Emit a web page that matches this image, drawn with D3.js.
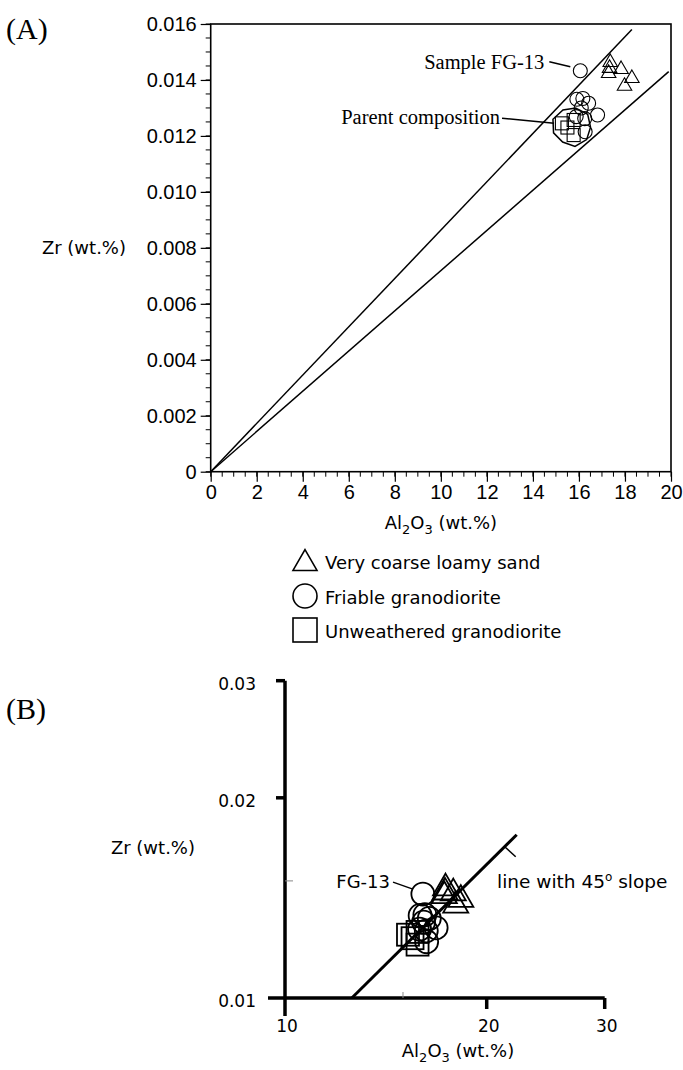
<!DOCTYPE html>
<html>
<head>
<meta charset="utf-8">
<script src="https://cdn.jsdelivr.net/npm/d3@7/dist/d3.min.js"></script>
<style>
  html, body { margin: 0; padding: 0; background: #fff; }
  svg { display: block; }
</style>
</head>
<body>
<svg id="chart" width="683" height="1070"></svg>
<script>
// ---------------- DATA ----------------
const seriesNames = ["Very coarse loamy sand", "Friable granodiorite", "Unweathered granodiorite"];
// [Al2O3 wt.%, Zr wt.%]
const loamySand = [
  [17.36, 0.01463], [17.33, 0.01442], [17.29, 0.01424],
  [17.83, 0.01438], [18.30, 0.01406], [17.98, 0.01378]
];
const friable = [
  [16.06, 0.01433],
  [15.91, 0.01331], [16.17, 0.01334], [16.42, 0.01317], [16.81, 0.01275],
  [15.88, 0.01269], [16.27, 0.01215], [16.10, 0.01300], [16.25, 0.01262]
];
const unweathered = [
  [15.26, 0.01245], [15.77, 0.01257], [15.77, 0.01203], [15.50, 0.01230]
];
const sampleFG13 = [16.06, 0.01433];
const parentComposition = [15.70, 0.01233];
const boundLines = [
  [[0, 0], [18.3, 0.0158]],
  [[0, 0], [19.9, 0.0143]]
];
const line45 = [[12.58, 0.01], [22.17, 0.0176]];

const aXTicks = [0, 2, 4, 6, 8, 10, 12, 14, 16, 18, 20];
const aXMinor = d3.range(0, 20.01, 0.5);
const aYTicks = [0, 0.002, 0.004, 0.006, 0.008, 0.010, 0.012, 0.014, 0.016];
const aYMinor = d3.range(0, 0.01601, 0.0005);
const bXTicks = [10, 20, 30];
const bYTicks = [0.01, 0.02, 0.03];

// ---------------- SETUP ----------------
const svg = d3.select("#chart");
const serif = "'Liberation Serif', 'Times New Roman', serif";
const sansA = "'Liberation Sans', Arial, sans-serif";
const sansB = "'DejaVu Sans', Verdana, sans-serif";

function triPath(cx, cy, s) {
  const h = s * Math.sqrt(3) / 2;
  return `M${cx},${cy - 2 * h / 3}L${cx + s / 2},${cy + h / 3}L${cx - s / 2},${cy + h / 3}Z`;
}

// ================= PANEL A =================
const xA = d3.scaleLinear().domain([0, 20]).range([210.7, 671]);
const yA = d3.scaleLinear().domain([0, 0.016]).range([471.7, 24]);
const gA = svg.append("g");

// panel letter
svg.append("text").attr("x", 6).attr("y", 39)
  .attr("font-family", serif).attr("font-size", 30).text("(A)");

// minor ticks
gA.append("g").selectAll("line").data(aXMinor).join("line")
  .attr("x1", d => xA(d)).attr("x2", d => xA(d))
  .attr("y1", yA(0)).attr("y2", yA(0) + 5)
  .attr("stroke", "#000").attr("stroke-width", 1);
gA.append("g").selectAll("line").data(aYMinor).join("line")
  .attr("y1", d => yA(d)).attr("y2", d => yA(d))
  .attr("x1", xA(0)).attr("x2", xA(0) - 5)
  .attr("stroke", "#000").attr("stroke-width", 1);

// major ticks + labels via d3 axes
const axA_x = gA.append("g").attr("transform", `translate(0,${yA(0)})`)
  .call(d3.axisBottom(xA).tickValues(aXTicks).tickSize(10).tickPadding(4).tickFormat(d3.format("d")));
const axA_y = gA.append("g").attr("transform", `translate(${xA(0)},0)`)
  .call(d3.axisLeft(yA).tickValues(aYTicks).tickSize(10).tickPadding(4)
    .tickFormat(d => d === 0 ? "0" : d3.format(".3f")(d)));
[axA_x, axA_y].forEach(ax => {
  ax.select(".domain").remove();
  ax.selectAll(".tick line").attr("stroke", "#000").attr("stroke-width", 1.2);
  ax.selectAll(".tick text").attr("font-family", sansA).attr("font-size", 20).attr("fill", "#000");
});
axA_x.selectAll(".tick text").attr("dy", "0.68em");

// frame
gA.append("rect")
  .attr("x", xA(0)).attr("y", yA(0.016))
  .attr("width", xA(20) - xA(0)).attr("height", yA(0) - yA(0.016))
  .attr("fill", "none").attr("stroke", "#000").attr("stroke-width", 1.6);

// bounding lines
const lineA = d3.line().x(d => xA(d[0])).y(d => yA(d[1]));
gA.append("g").selectAll("path").data(boundLines).join("path")
  .attr("d", lineA).attr("fill", "none").attr("stroke", "#000").attr("stroke-width", 1.5);

// parent composition polygon (drawn around the parent composition point)
const pc = [xA(parentComposition[0]), yA(parentComposition[1])];
const polyR = [19, 20, 18.5, 19.5, 20, 18, 19.5, 20.5, 19];
const polyPts = polyR.map((r, i) => {
  const a = -Math.PI / 2 + i * 2 * Math.PI / polyR.length + 0.2;
  return [pc[0] + r * Math.cos(a), pc[1] + r * Math.sin(a)];
});
gA.append("path").attr("d", d3.line()(polyPts) + "Z")
  .attr("fill", "none").attr("stroke", "#000").attr("stroke-width", 1.5);

// markers
const mkA = gA.append("g").attr("fill", "none").attr("stroke", "#000").attr("stroke-width", 1.1);
mkA.selectAll(".sq").data(unweathered).join("rect").attr("class", "sq")
  .attr("x", d => xA(d[0]) - 6.5).attr("y", d => yA(d[1]) - 6.5)
  .attr("width", 13).attr("height", 13);
mkA.selectAll(".ci").data(friable).join("circle").attr("class", "ci")
  .attr("cx", d => xA(d[0])).attr("cy", d => yA(d[1])).attr("r", 7);
mkA.selectAll(".tr").data(loamySand).join("path").attr("class", "tr")
  .attr("d", d => triPath(xA(d[0]), yA(d[1]), 14.5));

// annotations A
const fgA = [xA(sampleFG13[0]), yA(sampleFG13[1])];
gA.append("text").attr("x", fgA[0] - 36).attr("y", fgA[1] - 9).attr("dy", "0.35em")
  .attr("text-anchor", "end").attr("font-family", serif).attr("font-size", 20.5).text("Sample FG-13");
gA.append("line").attr("x1", fgA[0] - 31).attr("y1", fgA[1] - 9)
  .attr("x2", fgA[0] - 10).attr("y2", fgA[1] - 4).attr("stroke", "#000").attr("stroke-width", 1.5);
gA.append("text").attr("x", pc[0] - 72).attr("y", pc[1] - 10).attr("dy", "0.35em")
  .attr("text-anchor", "end").attr("font-family", serif).attr("font-size", 20.5).text("Parent composition");
gA.append("line").attr("x1", pc[0] - 70).attr("y1", pc[1] - 8.5)
  .attr("x2", pc[0] - 18).attr("y2", pc[1] - 3.5).attr("stroke", "#000").attr("stroke-width", 1.5);

// axis titles A
gA.append("text").attr("x", 126).attr("y", yA(0.008)).attr("dy", "0.35em")
  .attr("text-anchor", "end").attr("font-family", sansB).attr("font-size", 18).text("Zr (wt.%)");
const tA = gA.append("text").attr("x", (xA(0) + xA(20)) / 2).attr("y", 529)
  .attr("text-anchor", "middle").attr("font-family", sansB).attr("font-size", 18);
tA.append("tspan").text("Al");
tA.append("tspan").attr("font-size", 13).attr("dy", 5).text("2");
tA.append("tspan").attr("dy", -5).text("O");
tA.append("tspan").attr("font-size", 13).attr("dy", 5).text("3");
tA.append("tspan").attr("dy", -5).text(" (wt.%)");

// legend
const lg = svg.append("g").attr("font-family", sansB).attr("font-size", 18);
const lgY = [561, 596, 630];
lg.append("path").attr("d", triPath(305, 563.5, 24)).attr("fill", "none").attr("stroke", "#000").attr("stroke-width", 1.6);
lg.append("circle").attr("cx", 305).attr("cy", 596).attr("r", 12).attr("fill", "none").attr("stroke", "#000").attr("stroke-width", 1.6);
lg.append("rect").attr("x", 293).attr("y", 618).attr("width", 24).attr("height", 24).attr("fill", "none").attr("stroke", "#000").attr("stroke-width", 1.6);
lg.selectAll("text").data(seriesNames).join("text")
  .attr("x", 325).attr("y", (d, i) => lgY[i] + 2).attr("dy", "0.35em").text(d => d);

// ================= PANEL B =================
const xB = d3.scaleLog().domain([10, 30]).range([285, 604.7]);
const yB = d3.scaleLog().domain([0.01, 0.03]).range([998, 680.7]);
const gB = svg.append("g");

svg.append("text").attr("x", 6).attr("y", 719)
  .attr("font-family", serif).attr("font-size", 30).text("(B)");

// axes
gB.append("line").attr("x1", xB(10)).attr("x2", xB(10)).attr("y1", yB(0.03)).attr("y2", yB(0.01) + 18)
  .attr("stroke", "#000").attr("stroke-width", 3.5);
gB.append("line").attr("x1", xB(10) - 17).attr("x2", xB(30)).attr("y1", yB(0.01)).attr("y2", yB(0.01))
  .attr("stroke", "#000").attr("stroke-width", 3.5);
// major ticks (10 and 0.01 ticks are the extended axis lines)
gB.selectAll(".ytk").data(bYTicks.filter(d => d !== 0.01)).join("line").attr("class", "ytk")
  .attr("x1", xB(10) - 9).attr("x2", xB(10)).attr("y1", d => yB(d)).attr("y2", d => yB(d))
  .attr("stroke", "#000").attr("stroke-width", 3.5);
gB.selectAll(".xtk").data(bXTicks.filter(d => d !== 10)).join("line").attr("class", "xtk")
  .attr("x1", d => xB(d)).attr("x2", d => xB(d)).attr("y1", yB(0.01)).attr("y2", yB(0.01) + 11)
  .attr("stroke", "#000").attr("stroke-width", 3.5);
// faint minor ticks
gB.append("line").attr("x1", xB(10)).attr("x2", xB(10) + 8).attr("y1", yB(0.015)).attr("y2", yB(0.015))
  .attr("stroke", "#888").attr("stroke-width", 1);
gB.append("line").attr("x1", xB(15)).attr("x2", xB(15)).attr("y1", yB(0.01)).attr("y2", yB(0.01) - 6)
  .attr("stroke", "#888").attr("stroke-width", 1);

// tick labels
gB.selectAll(".ytl").data(bYTicks).join("text").attr("class", "ytl")
  .attr("x", 256).attr("y", d => yB(d) + 3).attr("dy", "0.35em").attr("text-anchor", "end")
  .attr("font-family", sansB).attr("font-size", 17).text(d => d3.format(".2f")(d));
gB.selectAll(".xtl").data(bXTicks).join("text").attr("class", "xtl")
  .attr("x", d => xB(d) + 2).attr("y", 1032).attr("text-anchor", "middle")
  .attr("font-family", sansB).attr("font-size", 17).text(d => d);

// 45 degree line
gB.append("path").attr("d", d3.line().x(d => xB(d[0])).y(d => yB(d[1]))(line45))
  .attr("fill", "none").attr("stroke", "#000").attr("stroke-width", 3);

// markers B
const mkB = gB.append("g").attr("fill", "none").attr("stroke", "#000").attr("stroke-width", 1.8);
mkB.selectAll(".sq").data(unweathered).join("rect").attr("class", "sq")
  .attr("x", d => xB(d[0]) - 11).attr("y", d => yB(d[1]) - 11)
  .attr("width", 22).attr("height", 22);
mkB.selectAll(".ci").data(friable).join("circle").attr("class", "ci")
  .attr("cx", d => xB(d[0])).attr("cy", d => yB(d[1])).attr("r", 11.5);
mkB.selectAll(".tr").data(loamySand).join("path").attr("class", "tr")
  .attr("d", d => triPath(xB(d[0]), yB(d[1]), 25));

// annotations B
const fgB = [xB(sampleFG13[0]), yB(sampleFG13[1])];
gB.append("text").attr("x", 390).attr("y", fgB[1] - 12).attr("dy", "0.35em")
  .attr("text-anchor", "end").attr("font-family", sansB).attr("font-size", 18).text("FG-13");
gB.append("line").attr("x1", 393).attr("y1", fgB[1] - 12).attr("x2", fgB[0] - 10).attr("y2", fgB[1] - 5)
  .attr("stroke", "#000").attr("stroke-width", 1.5);
const lEnd = line45[1];
const lx = xB(lEnd[0]) - 12, ly = yB(lEnd[1]) + 12;
gB.append("line").attr("x1", lx).attr("y1", ly).attr("x2", lx + 11).attr("y2", ly + 10)
  .attr("stroke", "#000").attr("stroke-width", 1.5);
const t45 = gB.append("text").attr("x", 497).attr("y", 882).attr("dy", "0.35em")
  .attr("font-family", sansB).attr("font-size", 18.5);
t45.append("tspan").text("line with 45");
t45.append("tspan").attr("font-size", 12).attr("dy", -7).text("o");
t45.append("tspan").attr("dy", 7).text(" slope");

// axis titles B
gB.append("text").attr("x", 195).attr("y", 848).attr("dy", "0.35em")
  .attr("text-anchor", "end").attr("font-family", sansB).attr("font-size", 18).text("Zr (wt.%)");
const tB = gB.append("text").attr("x", 458).attr("y", 1057)
  .attr("text-anchor", "middle").attr("font-family", sansB).attr("font-size", 18);
tB.append("tspan").text("Al");
tB.append("tspan").attr("font-size", 13).attr("dy", 5).text("2");
tB.append("tspan").attr("dy", -5).text("O");
tB.append("tspan").attr("font-size", 13).attr("dy", 5).text("3");
tB.append("tspan").attr("dy", -5).text(" (wt.%)");
</script>
</body>
</html>
